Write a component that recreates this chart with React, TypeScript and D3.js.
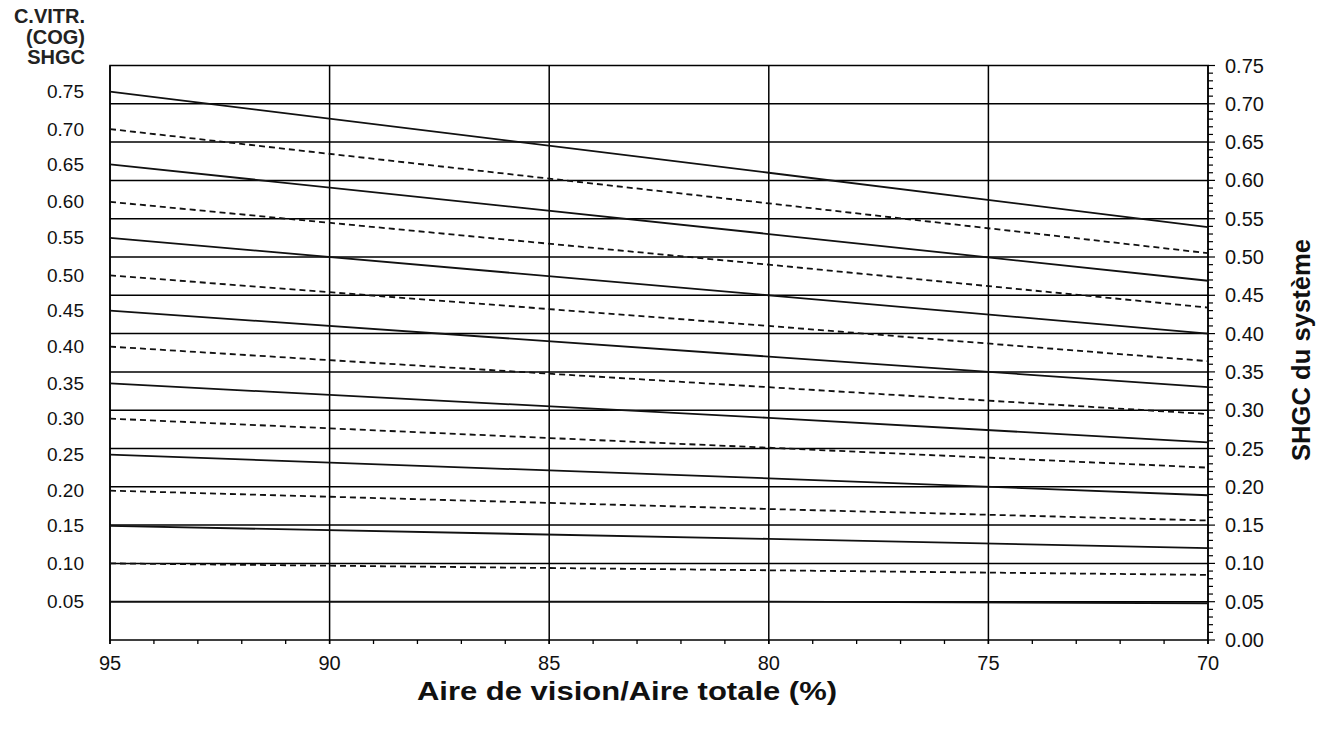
import React from "react";
import * as d3 from "d3";

// Vision area / total area (%)
const visionArea = [95, 80, 70];
// Centre-of-glass SHGC for each curve
const cogShgc = [0.75, 0.7, 0.65, 0.6, 0.55, 0.5, 0.45, 0.4, 0.35, 0.3, 0.25, 0.2, 0.15, 0.1, 0.05];
// System SHGC read at each vision area
const sysAt95 = [0.716, 0.667, 0.621, 0.572, 0.525, 0.476, 0.43, 0.383, 0.335, 0.289, 0.242, 0.195, 0.149, 0.1, 0.05];
const sysAt80 = [0.61, 0.57, 0.53, 0.49, 0.45, 0.41, 0.37, 0.33, 0.29, 0.251, 0.211, 0.171, 0.132, 0.091, 0.05];
const sysAt70 = [0.539, 0.505, 0.469, 0.434, 0.4, 0.364, 0.33, 0.295, 0.258, 0.225, 0.189, 0.156, 0.12, 0.085, 0.048];
// Dashed curves
const dashed = [false, true, false, true, false, true, false, true, false, true, false, true, false, true, false];

const xTicks = [95, 90, 85, 80, 75, 70];
const yTicks = [0, 0.05, 0.1, 0.15, 0.2, 0.25, 0.3, 0.35, 0.4, 0.45, 0.5, 0.55, 0.6, 0.65, 0.7, 0.75];

const FONT = "'Liberation Sans', Arial, sans-serif";

export default function App() {
  const W = 1330, H = 736;
  const left = 110, right = 1208, top = 65.5, bottom = 640;
  const x = d3.scaleLinear().domain([95, 70]).range([left, right]);
  const y = d3.scaleLinear().domain([0, 0.75]).range([bottom, top]);
  const line = d3.line<[number, number]>().x(d => x(d[0])).y(d => y(d[1]));
  const series = cogShgc.map((c, i) => {
    const vals = [sysAt95[i], sysAt80[i], sysAt70[i]];
    return { c, dashed: dashed[i], pts: visionArea.map((v, j) => [v, vals[j]] as [number, number]) };
  });
  const minorY = d3.range(0, 76).map(k => k / 100);
  const minorX = d3.range(70, 96);

  return (
    <svg width={W} height={H} style={{ position: "absolute", left: 0, top: 0, background: "#fff" }} fontFamily={FONT}>
      {/* title top-left */}
      <g fontWeight="bold" fontSize={20} textAnchor="end" fill="#222">
        <text x={85} y={23}>C.VITR.</text>
        <text x={85} y={44}>(COG)</text>
        <text x={85} y={64}>SHGC</text>
      </g>
      {/* horizontal grid */}
      {yTicks.filter(t => t > 0 && t < 0.75).map(t => (
        <line key={"hg" + t} x1={left} x2={right} y1={y(t)} y2={y(t)} stroke="#000" strokeWidth={1.5} />
      ))}
      {/* vertical grid */}
      {xTicks.map(t => (
        <line key={"vg" + t} x1={x(t)} x2={x(t)} y1={top} y2={bottom + 4} stroke="#000" strokeWidth={1.5} />
      ))}
      {/* minor x ticks */}
      {minorX.map(t => (
        <line key={"mx" + t} x1={x(t)} x2={x(t)} y1={bottom} y2={bottom + 4} stroke="#000" strokeWidth={1.3} />
      ))}
      {/* right axis ticks */}
      {minorY.map((t, k) => (
        <line key={"my" + k} x1={right} x2={right + (k % 5 === 0 ? 7 : 5)} y1={y(t)} y2={y(t)} stroke="#000" strokeWidth={1.2} />
      ))}
      {/* frame */}
      <rect x={left} y={top} width={right - left} height={bottom - top} fill="none" stroke="#000" strokeWidth={1.5} />
      {/* curves */}
      {series.map(s => (
        <path key={"s" + s.c} d={line(s.pts) || ""} fill="none" stroke="#111" strokeWidth={1.8}
          strokeDasharray={s.dashed ? "6,4" : undefined} />
      ))}
      {/* left labels at curve starts */}
      <g fontSize={19} textAnchor="end" fill="#111">
        {series.map(s => (
          <text key={"ll" + s.c} x={84} y={y(s.pts[0][1])} dominantBaseline="central">{s.c.toFixed(2)}</text>
        ))}
      </g>
      {/* right labels */}
      <g fontSize={20} textAnchor="start" fill="#111">
        {yTicks.map(t => (
          <text key={"rl" + t} x={1225} y={y(t)} dominantBaseline="central">{t.toFixed(2)}</text>
        ))}
      </g>
      {/* bottom labels */}
      <g fontSize={20} textAnchor="middle" fill="#111">
        {xTicks.map(t => (
          <text key={"bl" + t} x={x(t)} y={670}>{t}</text>
        ))}
      </g>
      <text x={627} y={700} textAnchor="middle" fontWeight="bold" fontSize={25} fill="#111"
        textLength={420} lengthAdjust="spacingAndGlyphs">Aire de vision/Aire totale (%)</text>
      <text transform="translate(1310,350) rotate(-90)" textAnchor="middle" fontWeight="bold" fontSize={25} fill="#111"
        textLength={222} lengthAdjust="spacingAndGlyphs">SHGC du système</text>
    </svg>
  );
}
